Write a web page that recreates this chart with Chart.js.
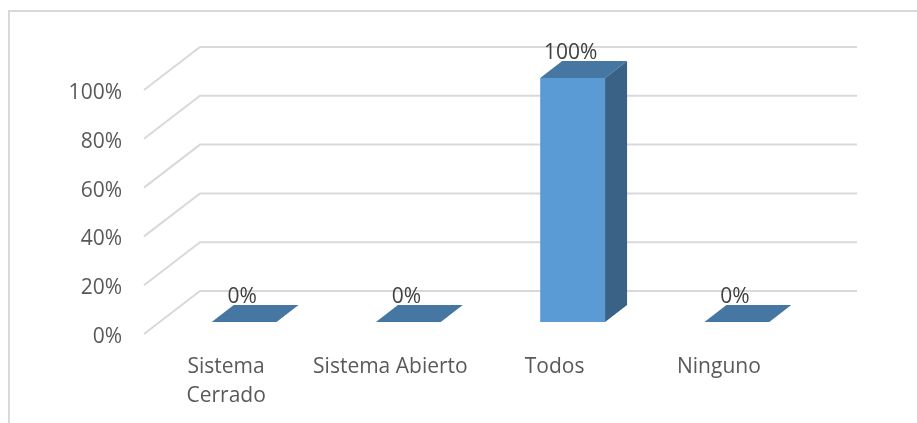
<!DOCTYPE html>
<html>
<head>
<meta charset="utf-8">
<style>
  html, body { margin: 0; padding: 0; background: #fff; overflow: hidden; }
  #marco { position: relative; width: 917px; height: 423px; }
  #myChart { filter: blur(0.4px); }
</style>
<script src="https://cdn.jsdelivr.net/npm/chart.js@4"></script>
</head>
<body>
<div id="marco"><canvas id="myChart" width="917" height="423"></canvas></div>
<script>
const categorias = [["Sistema", "Cerrado"], "Sistema Abierto", "Todos", "Ninguno"];
const valores = [0, 0, 100, 0];
const etiquetasY = ["0%", "20%", "40%", "60%", "80%", "100%"];

const FUENTE = "'Open Sans', sans-serif";

// profundidad del piso completo y de cada barra
const PARED = { x: 56, y: -43 };
const HUECO = { x: 18, y: -12 };
const BARRA = { x: 22, y: -17 };

// el marco original solo se ve arriba y a la izquierda
const marcoPlugin = {
  id: "marco",
  beforeDraw(chart) {
    const ctx = chart.ctx;
    ctx.save();
    ctx.strokeStyle = "#D9D9D9";
    ctx.lineWidth = 2;
    ctx.beginPath();
    ctx.moveTo(9, 423);
    ctx.lineTo(9, 11);
    ctx.lineTo(917, 11);
    ctx.stroke();
    ctx.restore();
  },
};

// lineas de la pared del fondo y diagonales del costado
const paredPlugin = {
  id: "pared",
  beforeDatasetsDraw(chart) {
    const ctx = chart.ctx;
    const yScale = chart.scales.y;
    const { left, right } = chart.chartArea;
    ctx.save();
    ctx.strokeStyle = "#D9D9D9";
    ctx.lineWidth = 2;
    yScale.ticks.forEach((t) => {
      const y = yScale.getPixelForValue(t.value);
      ctx.beginPath();
      ctx.moveTo(left, y);
      ctx.lineTo(left + PARED.x, y + PARED.y);
      ctx.lineTo(right + PARED.x, y + PARED.y);
      ctx.stroke();
    });
    ctx.restore();
  },
};

function cara(ctx, puntos, color) {
  ctx.fillStyle = color;
  ctx.beginPath();
  puntos.forEach((p, i) => (i ? ctx.lineTo(p[0], p[1]) : ctx.moveTo(p[0], p[1])));
  ctx.closePath();
  ctx.fill();
}

// las caras de las barras salen de la posicion que calcula Chart.js
const barra3dPlugin = {
  id: "barra3d",
  beforeDatasetDraw(chart) {
    chart.ctx.save();
    chart.ctx.translate(HUECO.x, HUECO.y);
  },
  afterDatasetDraw(chart, args) {
    const ctx = chart.ctx;
    args.meta.data.forEach((bar) => {
      const { x, y, base, width } = bar.getProps(["x", "y", "base", "width"], true);
      const l = x - width / 2;
      const r = x + width / 2;
      cara(ctx, [[l, y], [l + BARRA.x, y + BARRA.y], [r + BARRA.x, y + BARRA.y], [r, y]], "#4677A3");
      if (base - y > 0) {
        cara(ctx, [[r, y], [r + BARRA.x, y + BARRA.y], [r + BARRA.x, base + BARRA.y], [r, base]], "#3A6286");
      }
    });
    ctx.restore();
  },
};

const etiquetasPlugin = {
  id: "etiquetas",
  afterDatasetsDraw(chart) {
    const ctx = chart.ctx;
    const meta = chart.getDatasetMeta(0);
    ctx.save();
    ctx.font = "21px " + FUENTE;
    ctx.fillStyle = "#404040";
    ctx.textAlign = "center";
    ctx.textBaseline = "middle";
    meta.data.forEach((bar, i) => {
      ctx.fillText(valores[i] + "%", bar.x + HUECO.x - 2, bar.y + HUECO.y - 25);
    });
    ctx.restore();
  },
};

const ctx = document.getElementById("myChart").getContext("2d");
new Chart(ctx, {
  type: "bar",
  data: {
    labels: categorias,
    datasets: [
      {
        data: valores,
        backgroundColor: "#5B9BD5",
        borderWidth: 0,
        barPercentage: 0.395,
        categoryPercentage: 1,
      },
    ],
  },
  options: {
    responsive: false,
    animation: false,
    layout: { padding: { top: 90, right: 116, left: 0, bottom: 0 } },
    plugins: { legend: { display: false }, tooltip: { enabled: false } },
    scales: {
      x: {
        grid: { display: false },
        border: { display: false },
        afterFit: (axis) => { axis.height = 89; },
        ticks: {
          maxRotation: 0,
          autoSkip: false,
          padding: 11,
          color: "#595959",
          font: { family: FUENTE, size: 21, lineHeight: 1.38 },
        },
      },
      y: {
        min: 0,
        max: 100,
        grid: { display: false },
        border: { display: false },
        afterFit: (axis) => { axis.width = 144; },
        ticks: {
          stepSize: 20,
          padding: 14,
          labelOffset: 3,
          color: "#595959",
          font: { family: FUENTE, size: 21 },
          callback: (v) => etiquetasY[v / 20],
        },
      },
    },
  },
  plugins: [marcoPlugin, paredPlugin, barra3dPlugin, etiquetasPlugin],
});
</script>
</body>
</html>
